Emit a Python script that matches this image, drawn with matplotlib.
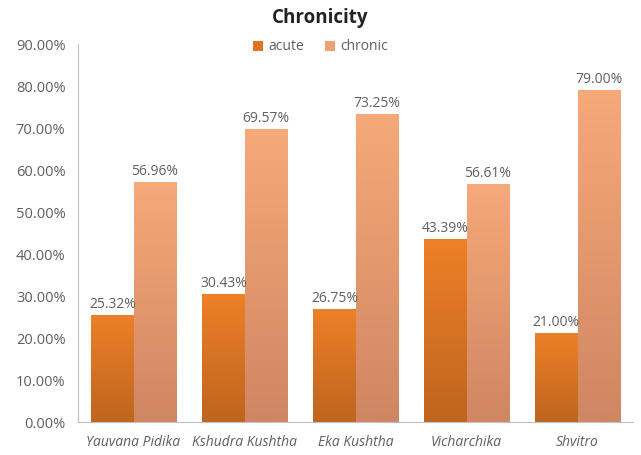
import numpy as np
import matplotlib
matplotlib.use("Agg")
import matplotlib.pyplot as plt
from matplotlib.colors import LinearSegmentedColormap

categories = ["Yauvana Pidika", "Kshudra Kushtha", "Eka Kushtha", "Vicharchika", "Shvitro"]
acute = [25.32, 30.43, 26.75, 43.39, 21.00]
chronic = [56.96, 69.57, 73.25, 56.61, 79.00]

plt.rcParams['font.family'] = ['Open Sans', 'DejaVu Sans']
gray = "#5F5F5F"

fig = plt.figure(figsize=(6.41, 4.55), dpi=100)
ax = fig.add_axes([78/641, 1-422/455, 555/641, 378/455])

x = np.arange(len(categories))
w = 0.38
barsA = ax.bar(x - w/2, acute, w, color="#E07422", label="acute")
barsC = ax.bar(x + w/2, chronic, w, color="#F0A070", label="chronic")

# vertical gradient fill for each bar
grad = np.linspace(0, 1, 256).reshape(-1, 1)
cmapA = LinearSegmentedColormap.from_list("a", ["#BE651F", "#EE8028"])
cmapC = LinearSegmentedColormap.from_list("c", ["#CF8662", "#F6A979"])
for bars, cm in ((barsA, cmapA), (barsC, cmapC)):
    for b in bars:
        x0, y0 = b.get_x(), b.get_y()
        x1, y1 = x0 + b.get_width(), y0 + b.get_height()
        ax.imshow(grad, extent=(x0, x1, y0, y1), origin="lower", cmap=cm,
                  aspect="auto", zorder=2)
        b.set_alpha(0)

for bars, vals in ((barsA, acute), (barsC, chronic)):
    for b, v in zip(bars, vals):
        ax.text(b.get_x() + b.get_width()/2, v + 0.8, f"{v:.2f}%",
                ha="center", va="bottom", fontsize=10, color=gray)

ax.set_xlim(-0.5, len(categories) - 0.5)
ax.set_ylim(0, 90)
ax.set_yticks(np.arange(0, 91, 10))
ax.set_yticklabels([f"{t:.2f}%" for t in np.arange(0, 91, 10)])
ax.set_xticks(x)
ax.set_xticklabels(categories, style="italic")
ax.tick_params(colors=gray, labelsize=10, length=0, pad=9)
ax.tick_params(axis="y", labelsize=10.5, pad=9)
for s in ("top", "right"):
    ax.spines[s].set_visible(False)
for s in ("left", "bottom"):
    ax.spines[s].set_color("#BFBFBF")

fig.text(0.5, 1 - 18/455, "Chronicity", ha="center", va="center",
         fontsize=13.5, fontweight="bold", color="#222222")
leg = ax.legend(loc="center", bbox_to_anchor=(0.5, 1 - 47/455), bbox_transform=fig.transFigure,
                ncol=2, frameon=False, fontsize=10, handlelength=0.7, handleheight=0.7,
                columnspacing=1.5, handletextpad=0.4)
for t in leg.get_texts():
    t.set_color(gray)
for h in leg.legend_handles:
    h.set_alpha(1)

fig.savefig("out.png", dpi=100)
